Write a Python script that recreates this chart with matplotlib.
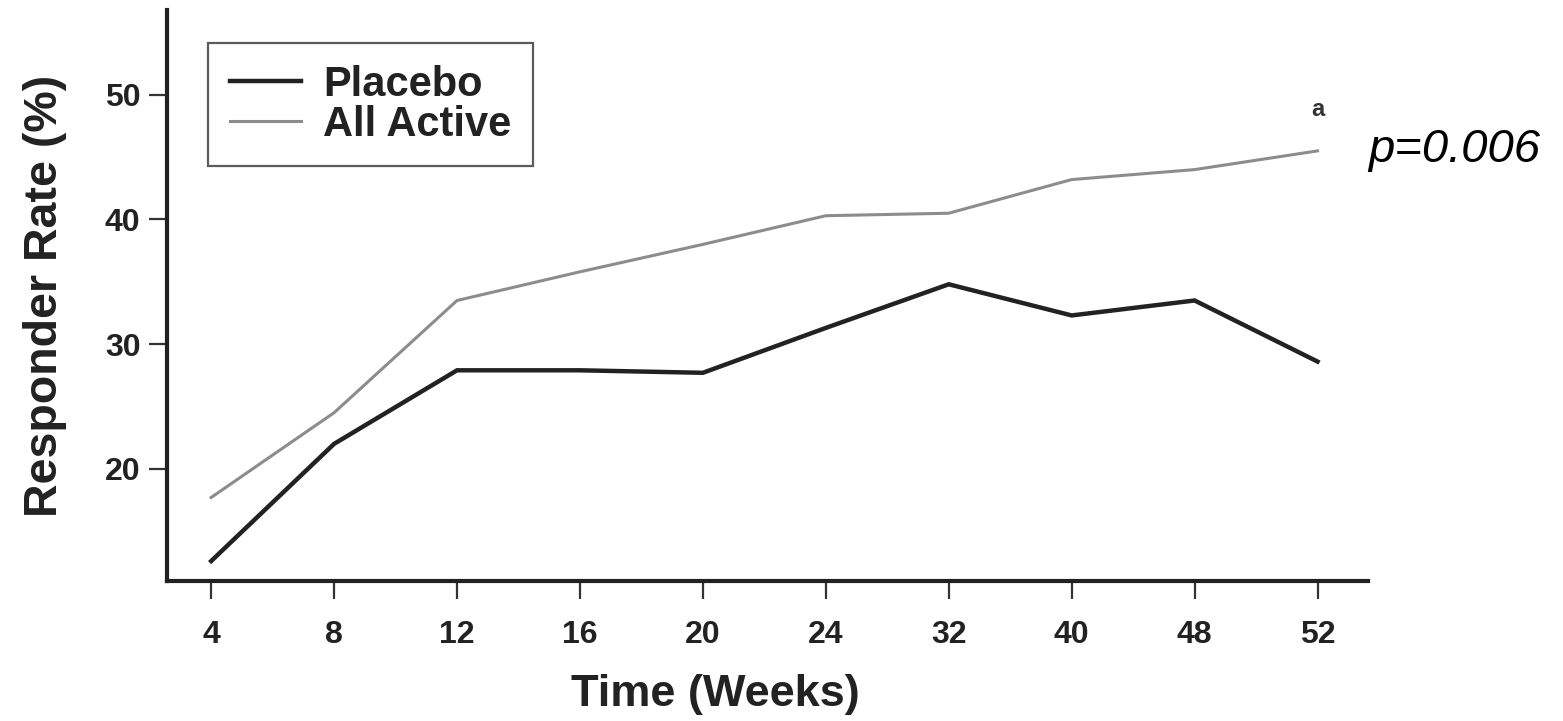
import matplotlib.pyplot as plt

plt.rcParams['font.family'] = ['Liberation Sans', 'DejaVu Sans']

weeks = ['4', '8', '12', '16', '20', '24', '32', '40', '48', '52']
placebo = [12.6, 22.0, 27.9, 27.9, 27.7, 31.3, 34.8, 32.3, 33.5, 28.6]
all_active = [17.7, 24.5, 33.5, 35.8, 38.0, 40.3, 40.5, 43.2, 44.0, 45.5]
y_ticks = [20, 30, 40, 50]

fig = plt.figure(figsize=(15.63, 7.21), dpi=100)
ax = fig.add_axes([0.1068, 0.1942, 0.7684, 0.7919])

x = list(range(len(weeks)))
ax.plot(x, placebo, color='#222222', lw=3.2, label='Placebo', solid_joinstyle='miter')
ax.plot(x, all_active, color='#8c8c8c', lw=2.2, label='All Active', solid_joinstyle='miter')

ax.set_xlim(-0.36, 9.41)
ax.set_ylim(11.0, 56.8)
ax.set_xticks(x)
ax.set_xticklabels(weeks)
ax.set_yticks(y_ticks)

for side in ['top', 'right']:
    ax.spines[side].set_visible(False)
for side in ['left', 'bottom']:
    ax.spines[side].set_linewidth(3.0)
    ax.spines[side].set_color('#222222')

ax.tick_params(axis='both', direction='out', length=13, width=1.6, color='#333333',
               labelsize=23, labelcolor='#222222')
ax.tick_params(axis='x', pad=15)
ax.tick_params(axis='y', pad=6)
for lab in ax.get_xticklabels() + ax.get_yticklabels():
    lab.set_fontweight('bold')

ax.set_xlabel('Time (Weeks)', fontsize=32.5, fontweight='bold', color='#222222')
ax.xaxis.set_label_coords((715 - 167) / 1201, -0.163)
ax.set_ylabel('Responder Rate (%)', fontsize=33.5, fontweight='bold', color='#222222')
ax.yaxis.set_label_coords(-0.083, 0.5)

leg = ax.legend(loc='upper left', bbox_to_anchor=(208 / 1563, 1 - 43 / 721),
                bbox_transform=fig.transFigure, frameon=True, fancybox=False,
                prop={'size': 30, 'weight': 'bold'}, handlelength=1.7,
                handletextpad=0.55, labelspacing=0.0, borderpad=0.52,
                borderaxespad=0)
leg.get_frame().set_edgecolor('#333333')
leg.get_frame().set_linewidth(1.6)
for t in leg.get_texts():
    t.set_color('#222222')

# significance marker at week 52
ax.text(9, 48.8, 'a', ha='center', va='center', fontsize=17, fontweight='bold', color='#333333')
fig.text(1368 / 1563, 1 - 150 / 721, 'p=0.006', ha='left', va='center',
         fontsize=34, style='italic', color='black')

fig.savefig('out.png', dpi=100)
